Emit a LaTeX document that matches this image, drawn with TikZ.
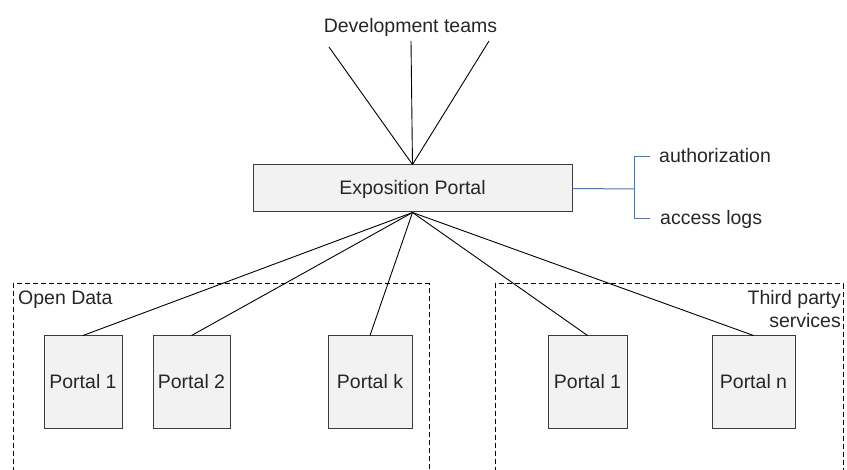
\documentclass[tikz,border=0pt]{standalone}
\usepackage{fontspec}
\setmainfont{Liberation Sans}
\definecolor{boxfill}{RGB}{242,242,242}
\definecolor{boxline}{RGB}{60,60,60}
\definecolor{linkblue}{RGB}{84,115,168}
\begin{document}
\begin{tikzpicture}[x=1pt,y=-1pt,
  every node/.style={font=\fontsize{19.5}{23}\selectfont, text=black!85},
  block/.style={draw=boxline, fill=boxfill, line width=1pt, inner sep=0pt},
  label/.style={inner sep=0pt},
  wire/.style={draw=black, line width=0.9pt},
  group/.style={draw=black, line width=1pt, dash pattern=on 5pt off 3pt}]
\useasboundingbox (0,0) rectangle (847,470);

% groups (dashed, running off the bottom edge)
\begin{scope}
\clip (0,0) rectangle (847,470);
\draw[group] (13,480) -- (13,284) -- (429,284) -- (429,480);
\draw[group] (495,480) -- (495,284) -- (843,284) -- (843,480);
\end{scope}
\node[label, anchor=base west] (od) at (18,305) {Open Data};
\node[label, anchor=base east] (tp1) at (841,305) {Third party};
\node[label, anchor=base east] (tp2) at (841,328) {services};

% central portal
\node[block, minimum width=319pt, minimum height=47pt] (exp) at (412.5,188.5) {};
\node[label, anchor=base] (expt) at (412.5,195) {Exposition Portal};

% development teams
\node[label, anchor=base] (dev) at (410.5,33) {Development teams};
\coordinate (d1) at (329,47);
\coordinate (d2) at (411,41);
\coordinate (d3) at (489,41);
\draw[wire] (exp.north) -- (d1);
\draw[wire] (exp.north) -- (d2);
\draw[wire] (exp.north) -- (d3);

% side features
\coordinate (br) at (634,189);
\coordinate (bt) at (634,157);
\coordinate (bb) at (634,219);
\coordinate (et) at (650,157);
\coordinate (eb) at (650,219);
\draw[linkblue, line width=1pt] (exp.east) -- (br);
\draw[linkblue, line width=1pt] (et) -- (bt) -- (bb) -- (eb);
\node[label, anchor=base west] (auth) at (659,163) {authorization};
\node[label, anchor=base west] (logs) at (660,225) {access logs};

% portals
\node[block, minimum width=78pt, minimum height=93pt] (p1) at (83,382.5) {};
\node[block, minimum width=77pt, minimum height=93pt] (p2) at (191.5,382.5) {};
\node[block, minimum width=84pt, minimum height=93pt] (pk) at (370,382.5) {};
\node[block, minimum width=79pt, minimum height=93pt] (q1) at (587.5,382.5) {};
\node[block, minimum width=83pt, minimum height=93pt] (qn) at (753.5,382.5) {};
\node[label, anchor=base] at (83,389) {Portal 1};
\node[label, anchor=base] at (191.5,389) {Portal 2};
\node[label, anchor=base] at (370,389) {Portal k};
\node[label, anchor=base] at (587.5,389) {Portal 1};
\node[label, anchor=base] at (753.5,389) {Portal n};

\foreach \p in {p1,p2,pk,q1,qn}
  \draw[wire] (exp.south) -- (\p.north);
\end{tikzpicture}
\end{document}
